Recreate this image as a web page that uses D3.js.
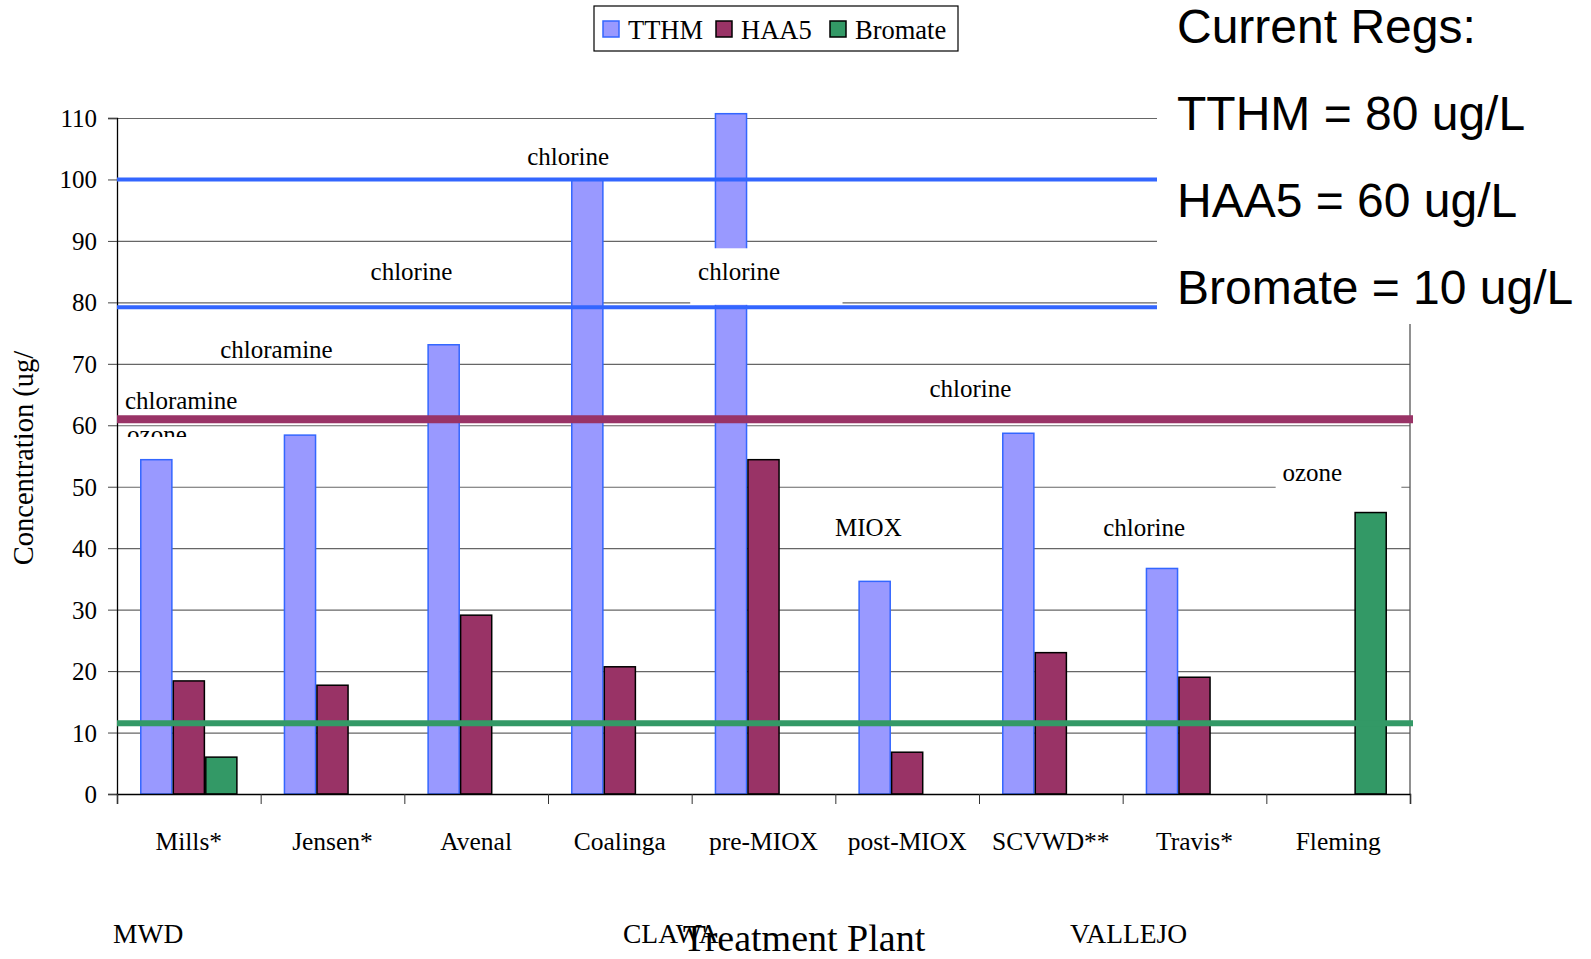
<html>
<head>
    <script src="https://d3js.org/d3.v7.min.js"></script>
    <style>
        body { margin: 0; background: white; }
        svg text { font-family: "Liberation Serif", "Times New Roman", serif; fill: black; }
        .regs text { font-family: "Liberation Sans", Arial, sans-serif; }
        .gridlines line { stroke: #666; }
        .gridlines .domain { stroke: none; }
    </style>
</head>
<body>
<svg id="chart" width="1591" height="959"></svg>
<script>
    // values
    const plants = ["Mills*", "Jensen*", "Avenal", "Coalinga", "pre-MIOX", "post-MIOX", "SCVWD**", "Travis*", "Fleming"];
    const series = ["TTHM", "HAA5", "Bromate"];
    const tthm = [54.4, 58.4, 73.1, 100, 110.7, 34.6, 58.7, 36.7, null];
    const haa5 = [18.4, 17.7, 29.1, 20.7, 54.4, 6.8, 23.0, 19.0, null];
    const bromate = [6, null, null, null, null, null, null, null, 45.8];
    const yTicks = [0, 10, 20, 30, 40, 50, 60, 70, 80, 90, 100, 110];
    const limitLines = [100, 79.2, 61, 11.5];
    const groups = ["MWD", "CLAWA", "VALLEJO"];
    const regs = ["Current Regs:", "TTHM = 80 ug/L", "HAA5 = 60 ug/L", "Bromate = 10 ug/L"];
    // annotations: text, position in category units, baseline value
    const notes = [
        ["chlorine", 3.14, 102.4, "middle"],
        ["chlorine", 2.05, 83.6, "middle"],
        ["chlorine", 4.33, 83.6, "middle"],
        ["chloramine", 1.11, 70.9, "middle"],
        ["chloramine", 0.055, 62.7, "start"],
        ["chlorine", 5.94, 64.6, "middle"],
        ["ozone", 8.32, 50.9, "middle"],
        ["MIOX", 5.23, 42.0, "middle"],
        ["chlorine", 7.15, 42.0, "middle"]
    ];

    const svg = d3.select("#chart");
    const margin = { top: 118, left: 117, right: 181, bottom: 165 };
    const width = 1591 - margin.left - margin.right;
    const height = 959 - margin.top - margin.bottom;

    const colors = { TTHM: "#9999ff", HAA5: "#993366", Bromate: "#339966" };
    const strokes = { TTHM: "#3366ff", HAA5: "#000", Bromate: "#000" };

    const x = d3.scaleBand().domain(plants).range([0, width]).padding(0);
    const xs = d3.scaleBand().domain(series).range([0, x.bandwidth()]).paddingInner(0).paddingOuter(0.71);
    const xc = d3.scaleLinear().domain([0, plants.length]).range([0, width]);
    const y = d3.scaleLinear().domain([0, 110]).range([height, 0]);

    const g = svg.append("g").attr("transform", `translate(${margin.left},${margin.top})`);

    // gridlines
    g.append("g").attr("class", "gridlines")
        .call(d3.axisLeft(y).tickValues(yTicks.slice(1)).tickSize(-width).tickFormat(""))
        .selectAll("line").attr("stroke-width", 1.2);

    // y axis
    const ya = g.append("g").call(d3.axisLeft(y).tickValues(yTicks).tickSize(9).tickPadding(11));
    ya.select(".domain").attr("stroke", "#000").attr("stroke-width", 1.3);
    ya.selectAll("line").attr("stroke", "#444");
    ya.selectAll("text").style("font-size", "25px").attr("dy", "0.34em");

    // right border
    g.append("line").attr("x1", width).attr("x2", width).attr("y1", y(77.3)).attr("y2", height)
        .attr("stroke", "#555").attr("stroke-width", 1.3);

    // bars
    const rows = plants.map((p, i) => ({ plant: p, values: [["TTHM", tthm[i]], ["HAA5", haa5[i]], ["Bromate", bromate[i]]] }));
    const grp = g.selectAll("g.plant").data(rows).join("g").attr("class", "plant")
        .attr("transform", d => `translate(${x(d.plant)},0)`);
    grp.selectAll("rect").data(d => d.values.filter(v => v[1] != null)).join("rect")
        .attr("x", d => xs(d[0]) + 0.7)
        .attr("width", xs.bandwidth() - 1.4)
        .attr("y", d => y(d[1]))
        .attr("height", d => height - y(d[1]))
        .attr("fill", d => colors[d[0]])
        .attr("stroke", d => strokes[d[0]])
        .attr("stroke-width", 1.5);

    // x axis
    const xa = g.append("g").attr("transform", `translate(0,${height})`)
        .call(d3.axisBottom(xc).tickValues(d3.range(plants.length + 1)).tickSize(10).tickFormat(""));
    xa.select(".domain").attr("stroke", "#000").attr("stroke-width", 1.5);
    xa.selectAll("line").attr("stroke", "#333");
    g.append("g").selectAll("text").data(plants).join("text")
        .attr("x", d => x(d) + x.bandwidth() / 2)
        .attr("y", height + 56)
        .attr("text-anchor", "middle")
        .style("font-size", "25.5px")
        .text(d => d);

    // annotation labels
    const clip = svg.append("defs").append("clipPath").attr("id", "ozclip");
    clip.append("rect").attr("x", -20).attr("y", 0).attr("width", 200).attr("height", y(58.1));
    g.append("text").attr("x", xc(0.07)).attr("y", y(57.1)).attr("clip-path", "url(#ozclip)")
        .style("font-size", "25px").text("ozone");

    // white boxes behind two labels
    g.append("rect").attr("x", xc(3.99)).attr("width", xc(5.05) - xc(3.99))
        .attr("y", y(88.8)).attr("height", y(79.6) - y(88.8)).attr("fill", "white");
    g.append("rect").attr("x", xc(8.065)).attr("width", xc(8.94) - xc(8.065))
        .attr("y", y(54)).attr("height", y(49.2) - y(54)).attr("fill", "white");

    g.append("g").selectAll("text").data(notes).join("text")
        .attr("x", d => xc(d[1]))
        .attr("y", d => y(d[2]))
        .attr("text-anchor", d => d[3])
        .style("font-size", "25px")
        .text(d => d[0]);

    // limit lines
    const lineStyle = [["#3366ff", 4, 1040], ["#3366ff", 4, 1040], ["#993366", 8, 1296], ["#339966", 6, 1296]];
    g.append("g").selectAll("line").data(limitLines).join("line")
        .attr("x1", 0)
        .attr("x2", (d, i) => lineStyle[i][2])
        .attr("y1", d => y(d)).attr("y2", d => y(d))
        .attr("stroke", (d, i) => lineStyle[i][0])
        .attr("stroke-width", (d, i) => lineStyle[i][1]);

    // y title
    svg.append("text").attr("transform", "translate(33,458) rotate(-90)")
        .attr("text-anchor", "middle").style("font-size", "28.5px").text("Concentration (ug/");

    // group labels + x title
    const gx = [113, 623, 1070];
    svg.append("g").selectAll("text").data(groups).join("text")
        .attr("x", (d, i) => gx[i]).attr("y", 943).style("font-size", "27.5px").text(d => d);
    svg.append("text").attr("x", 804).attr("y", 951).attr("text-anchor", "middle")
        .style("font-size", "38px").text("Treatment Plant");

    // legend
    const lg = svg.append("g").attr("transform", "translate(594,6)");
    lg.append("rect").attr("width", 364).attr("height", 45).attr("fill", "white").attr("stroke", "#000").attr("stroke-width", 1.2);
    const lx = [9, 122, 236];
    const li = lg.selectAll("g").data(series).join("g").attr("transform", (d, i) => `translate(${lx[i]},0)`);
    li.append("rect").attr("y", 15).attr("width", 16).attr("height", 16)
        .attr("fill", d => colors[d]).attr("stroke", d => strokes[d]).attr("stroke-width", 1.5);
    li.append("text").attr("x", 25).attr("y", 33).style("font-size", "26.5px").text(d => d);

    // current regs box
    const rg = svg.append("g").attr("class", "regs");
    rg.append("rect").attr("x", 1157).attr("y", 0).attr("width", 434).attr("height", 324).attr("fill", "white");
    rg.selectAll("text").data(regs).join("text")
        .attr("x", 1177).attr("y", (d, i) => 43 + i * 87)
        .style("font-size", "48px").text(d => d);
</script>
</body>
</html>
